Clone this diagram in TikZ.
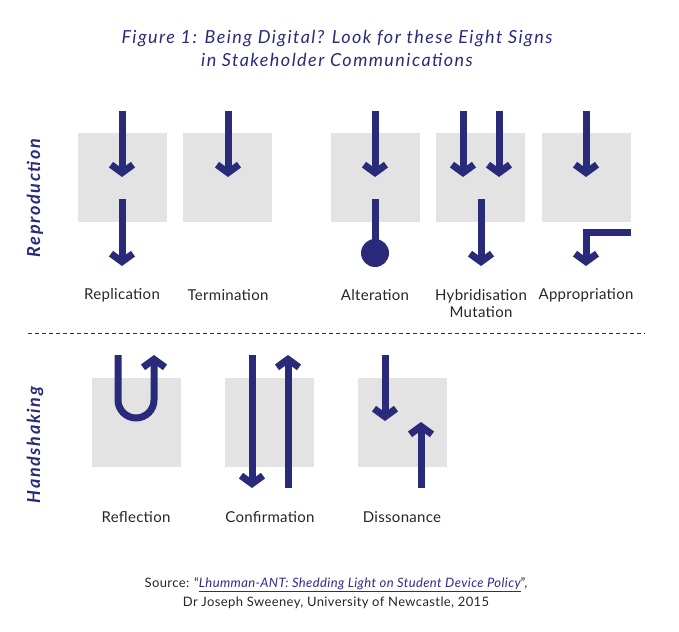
\documentclass[tikz,border=0pt]{standalone}
\usepackage{fontspec}
\setmainfont{Lato}
\usetikzlibrary{arrows.meta,positioning}
\definecolor{signBlue}{HTML}{2A2A7A}
\definecolor{signBox}{HTML}{E3E3E3}
\definecolor{linkBlue}{HTML}{2B2B8C}

\begin{document}
\begin{tikzpicture}[x=1pt,y=-1pt,
    signbox/.style={
      rectangle, fill=signBox,
      minimum size=89pt, inner sep=0pt
    },
    arr/.style={-{Straight Barb[length=8pt, width=22pt, sharp]}, line width=7pt, draw=signBlue, line join=miter},
    bar/.style={line width=7pt, draw=signBlue},
    lbl/.style={font=\fontsize{15}{17}\selectfont\addfontfeature{LetterSpace=2}, text=black!85, align=center},
    side/.style={font=\fontsize{18}{20}\selectfont\bfseries\itshape\addfontfeature{LetterSpace=9}, text=signBlue, rotate=90},
    title/.style={font=\fontsize{18}{23}\selectfont\itshape\addfontfeature{LetterSpace=8}, text=signBlue, align=center},
    src/.style={font=\fontsize{13}{19}\selectfont\addfontfeature{LetterSpace=3}, text=black!85, align=center}
  ]
    \useasboundingbox (0,0) rectangle (679,631);

    \node[title] (title) at (337,48) {Figure 1: Being Digital? Look for these Eight Signs\\in Stakeholder Communications};

    % reproduction
    \node[side] (repside) at (35,198) {Reproduction};
    \node[signbox] (repl) at (122.5,177.5) {};
    \node[signbox] (term) at (227.5,177.5) {};
    \node[signbox] (alter) at (375.5,177.5) {};
    \node[signbox] (hybr) at (480.5,177.5) {};
    \node[signbox] (appr) at (586.5,177.5) {};

    \draw[arr] (122,111) -- (122,177);
    \draw[arr] (122,199) -- (122,266);
    \draw[arr] (228,111) -- (228,177);
    \draw[arr] (375,111) -- (375,177);
    \node[circle, fill=signBlue, minimum size=28pt, inner sep=0pt] (altdot) at (375,253) {};
    \draw[bar] (375,199) -- (altdot.center);
    \draw[arr] (463,111) -- (463,177);
    \draw[arr] (499,111) -- (499,177);
    \draw[arr] (481,199) -- (481,266);
    \draw[arr] (586,111) -- (586,177);
    \draw[arr] (631,232) -- (586,232) -- (586,266);

    \node[lbl] (repllbl) at (122,295) {Replication};
    \node[lbl] (termlbl) at (228,295) {Termination};
    \node[lbl] (alterlbl) at (375,295) {Alteration};
    \node[lbl] (hybrlbl) at (481,303.5) {Hybridisation\\Mutation};
    \node[lbl] (apprlbl) at (586,295) {Appropriation};

    \draw[signBlue, line width=0.9pt, dash pattern=on 4pt off 3pt] (28,333) -- (645,333);

    % handshaking
    \node[side] (handside) at (35,445) {Handshaking};
    \node[signbox] (refl) at (136.5,422) {};
    \node[signbox] (conf) at (269.5,422) {};
    \node[signbox] (diss) at (402.5,422) {};

    \draw[arr] (118,355) -- (118,400) arc[start angle=180, end angle=360, radius=18pt] -- (154,355);
    \draw[arr] (252,355) -- (252,488);
    \draw[arr] (288,488) -- (288,355);
    \draw[arr] (385,355) -- (385,421);
    \draw[arr] (421,488) -- (421,422);

    \node[lbl] (refllbl) at (136,517) {Reflection};
    \node[lbl] (conflbl) at (270,517) {Confirmation};
    \node[lbl] (disslbl) at (402,517) {Dissonance};

    \node[src] (source) at (336,593) {Source: “\textcolor{linkBlue}{\itshape\underline{Lhumman-ANT: Shedding Light on Student Device Policy}}”,\\Dr Joseph Sweeney, University of Newcastle, 2015};
  \end{tikzpicture}
\end{document}
